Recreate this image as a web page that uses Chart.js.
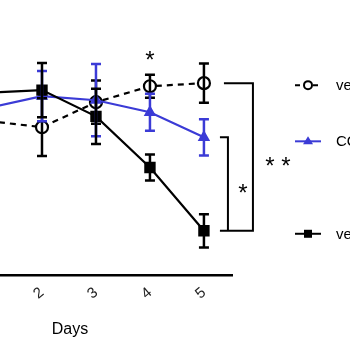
<!DOCTYPE html>
<html><head><meta charset="utf-8">
<script src="https://cdn.jsdelivr.net/npm/chart.js@4"></script>
<style>html,body{margin:0;padding:0;background:#fff}#wrap{width:350px;height:350px}</style>
</head><body><div id="wrap"><canvas id="c" width="350" height="350"></canvas></div>
<script>
const days = [1, 2, 3, 4, 5];
const tickLabels = [2, 3, 4, 5];
const vehicleVals = [63.9, 61.3, 71.7, 78.3, 79.6];
const vehicleErr  = [4, 12, 9, 4.8, 8.1];
const coVals      = [69.3, 74.2, 72.5, 67.5, 57.1];
const coErr       = [5, 10.4, 15, 7.7, 7.5];
const vehSqVals   = [75.6, 76.7, 65.8, 44.6, 18.3];
const vehSqErr    = [5, 11.3, 11.5, 5.4, 6.9];
const legendNames = ['vehicle', 'CO', 'vehicle'];
const blue = '#3b3bd6';

function pts(v){ return days.map((d,i)=>({x:d,y:v[i]})); }

const errPlugin = {
  id:'err',
  afterDatasetsDraw(chart){
    const ctx = chart.ctx, xs = chart.scales.x, ys = chart.scales.y, a = chart.chartArea;
    const sets = [[vehicleVals,vehicleErr,'#000'],[coVals,coErr,blue],[vehSqVals,vehSqErr,'#000']];
    ctx.save();
    ctx.beginPath(); ctx.rect(a.left, 0, a.right - a.left, a.bottom); ctx.clip();
    sets.forEach(([v,e,col])=>{
      ctx.strokeStyle = col; ctx.lineWidth = 2.5;
      days.forEach((d,i)=>{
        const x = xs.getPixelForValue(d);
        const y1 = ys.getPixelForValue(v[i]+e[i]), y2 = ys.getPixelForValue(v[i]-e[i]);
        ctx.beginPath();
        ctx.moveTo(x,y1); ctx.lineTo(x,y2);
        ctx.moveTo(x-5,y1); ctx.lineTo(x+5,y1);
        ctx.moveTo(x-5,y2); ctx.lineTo(x+5,y2);
        ctx.stroke();
      });
    });
    ctx.restore();
    ctx.save();
    ctx.strokeStyle='#000'; ctx.lineWidth=2; ctx.fillStyle='#000';
    const xv5 = xs.getPixelForValue(5);
    const yC5 = ys.getPixelForValue(vehicleVals[4]);
    const yB5 = ys.getPixelForValue(coVals[4]);
    const yS5 = ys.getPixelForValue(vehSqVals[4]);
    ctx.beginPath();
    ctx.moveTo(xv5+20,yC5); ctx.lineTo(xv5+49,yC5); ctx.lineTo(xv5+49,yS5); ctx.lineTo(xv5+16,yS5);
    ctx.moveTo(xv5+16,yB5); ctx.lineTo(xv5+24,yB5); ctx.lineTo(xv5+24,yS5);
    ctx.stroke();
    ctx.font='24px "Liberation Sans", Arial, sans-serif';
    ctx.textAlign='center'; ctx.textBaseline='middle';
    ctx.fillText('*', xv5+39, (yB5+yS5)/2+10);
    ctx.fillText('* *', xv5+74, ys.getPixelForValue(47)+6);
    ctx.fillText('*', xs.getPixelForValue(4), ys.getPixelForValue(vehicleVals[3]+vehicleErr[3])-13);
    ctx.font='16px "Liberation Sans", Arial, sans-serif';
    ctx.textBaseline='alphabetic';
    ctx.fillText('Days', 70, 334);
    const lx = 295, tx = 336;
    const rows = [ys.getPixelForValue(vehicleVals[4])+2, ys.getPixelForValue(coVals[4])+4, ys.getPixelForValue(vehSqVals[4])+3];
    ctx.font='15px "Liberation Sans", Arial, sans-serif';
    ctx.textAlign='left';
    rows.forEach((y,i)=>{ ctx.fillStyle='#000'; ctx.fillText(legendNames[i], tx, y+5); });
    ctx.lineWidth=2;
    ctx.strokeStyle='#000';
    ctx.setLineDash([5,4]);
    ctx.beginPath(); ctx.moveTo(lx,rows[0]); ctx.lineTo(lx+26,rows[0]); ctx.stroke();
    ctx.setLineDash([]);
    ctx.fillStyle='#fff'; ctx.beginPath(); ctx.arc(lx+13,rows[0],4,0,Math.PI*2); ctx.fill(); ctx.stroke();
    ctx.strokeStyle=blue; ctx.fillStyle=blue;
    ctx.beginPath(); ctx.moveTo(lx,rows[1]); ctx.lineTo(lx+26,rows[1]); ctx.stroke();
    ctx.beginPath(); ctx.moveTo(lx+13,rows[1]-5); ctx.lineTo(lx+18,rows[1]+3); ctx.lineTo(lx+8,rows[1]+3); ctx.closePath(); ctx.fill();
    ctx.strokeStyle='#000'; ctx.fillStyle='#000';
    ctx.beginPath(); ctx.moveTo(lx,rows[2]); ctx.lineTo(lx+26,rows[2]); ctx.stroke();
    ctx.fillRect(lx+9,rows[2]-4,8,8);
    ctx.restore();
  }
};

new Chart(document.getElementById('c'), {
  type:'line',
  data:{datasets:[
    {label:legendNames[0], data:pts(vehicleVals), borderColor:'#000', borderWidth:2.2, borderDash:[6,5],
     pointStyle:'circle', pointRadius:6, pointBorderWidth:2.2, pointBackgroundColor:'#fff', pointBorderColor:'#000', order:3},
    {label:legendNames[1], data:pts(coVals), borderColor:blue, borderWidth:2.2,
     pointStyle:'triangle', pointRadius:5, pointBackgroundColor:blue, pointBorderColor:blue, order:2},
    {label:legendNames[2], data:pts(vehSqVals), borderColor:'#000', borderWidth:2.2,
     pointStyle:'rect', pointRadius:6.5, pointBackgroundColor:'#000', pointBorderColor:'#000', order:1}
  ]},
  options:{
    responsive:false, animation:false,
    layout:{autoPadding:false, padding:{left:0, right:118, top:34, bottom:44}},
    plugins:{legend:{display:false}, tooltip:{enabled:false}},
    scales:{
      x:{type:'linear', min:1.222, max:5.52,
         afterBuildTicks(s){ s.ticks = tickLabels.map(v=>({value:v})); },
         afterFit(s){ s.paddingLeft = 0; s.paddingRight = 0; },
         border:{color:'#000', width:2.5},
         grid:{display:false, drawOnChartArea:false, drawTicks:true, tickLength:6, tickColor:'#000', tickWidth:2.5},
         ticks:{color:'#222', font:{family:'"Liberation Sans", Arial, sans-serif', size:15}, minRotation:40, maxRotation:40, padding:3}
      },
      y:{display:false, min:0, max:100}
    }
  },
  plugins:[errPlugin]
});
</script></body></html>
